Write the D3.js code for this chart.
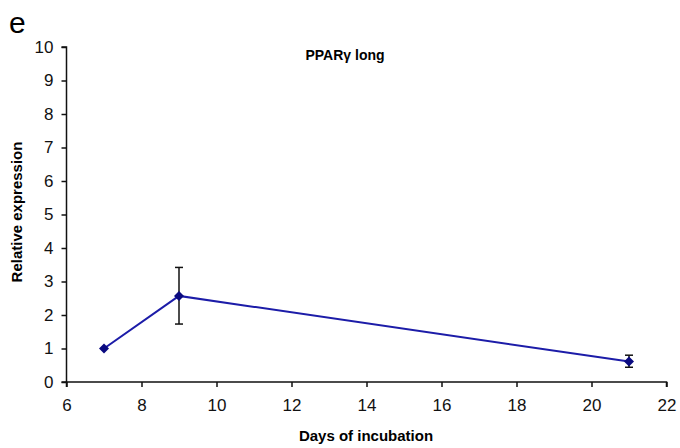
<!DOCTYPE html>
<html>
<head>
<meta charset="utf-8">
<script src="https://cdn.jsdelivr.net/npm/d3@7"></script>
<style>
  body { margin: 0; background: #fff; }
  text { font-family: "Liberation Sans", Arial, sans-serif; }
</style>
</head>
<body>
<script>
"use strict";

const days = [7, 9, 21];
const expression = [1.0, 2.57, 0.61];
const errLow = [1.0, 1.73, 0.44];
const errHigh = [1.0, 3.42, 0.8];
const xTicks = [6, 8, 10, 12, 14, 16, 18, 20, 22];
const yTicks = [0, 1, 2, 3, 4, 5, 6, 7, 8, 9, 10];

let svg = d3
  .select("body")
  .append("svg")
  .attr("width", 680)
  .attr("height", 448);

let x = d3.scaleLinear().domain([6, 22]).range([66.5, 666.5]);
let y = d3.scaleLinear().domain([0, 10]).range([382, 47]);

// axes
let xAxis = svg
  .append("g")
  .attr("transform", "translate(0,382)")
  .call(d3.axisBottom(x).tickValues(xTicks).tickSize(5).tickPadding(12));

let yAxis = svg
  .append("g")
  .attr("transform", "translate(66.5,0)")
  .call(d3.axisLeft(y).tickValues(yTicks).tickSize(5).tickPadding(8));

[xAxis, yAxis].forEach(a => {
  a.selectAll("path, line").attr("stroke", "#111").attr("stroke-width", 1.5);
  a.selectAll("text")
    .attr("font-size", 17)
    .attr("fill", "#111")
    .style("font-family", "'Liberation Sans', Arial, sans-serif");
});
xAxis.select(".domain").attr("d", "M66.5,5V0H666.5V5");
yAxis.select(".domain").attr("d", "M-5,382H0V47H-5");

// error bars
let bars = svg.append("g");
days.forEach((d, i) => {
  if (errHigh[i] === errLow[i]) return;
  let cx = x(d);
  bars.append("line")
    .attr("x1", cx).attr("x2", cx)
    .attr("y1", y(errLow[i])).attr("y2", y(errHigh[i]))
    .attr("stroke", "#111").attr("stroke-width", 1.5);
  [errLow[i], errHigh[i]].forEach(v => {
    bars.append("line")
      .attr("x1", cx - 4).attr("x2", cx + 4)
      .attr("y1", y(v)).attr("y2", y(v))
      .attr("stroke", "#111").attr("stroke-width", 1.5);
  });
});

// line
let line = d3.line()
  .x((d, i) => x(days[i]))
  .y(d => y(d));

svg.append("path")
  .datum(expression)
  .attr("d", line)
  .attr("fill", "none")
  .attr("stroke", "#1c1ca8")
  .attr("stroke-width", 2);

svg.append("g")
  .selectAll("path")
  .data(expression)
  .enter()
  .append("path")
  .attr("d", "M0,-5L5,0L0,5L-5,0Z")
  .attr("transform", (d, i) => `translate(${x(days[i])},${y(d)})`)
  .attr("fill", "#0a0a80");

// labels
svg.append("text")
  .attr("x", 9).attr("y", 33)
  .attr("font-size", 30)
  .text("e");

svg.append("text")
  .attr("x", 345).attr("y", 60)
  .attr("text-anchor", "middle")
  .attr("font-size", 14)
  .attr("font-weight", "bold")
  .text("PPARγ long");

svg.append("text")
  .attr("x", 366).attr("y", 441)
  .attr("text-anchor", "middle")
  .attr("font-size", 15)
  .attr("font-weight", "bold")
  .text("Days of incubation");

svg.append("text")
  .attr("transform", "translate(22,212) rotate(-90)")
  .attr("text-anchor", "middle")
  .attr("font-size", 15)
  .attr("font-weight", "bold")
  .text("Relative expression");
</script>
</body>
</html>
